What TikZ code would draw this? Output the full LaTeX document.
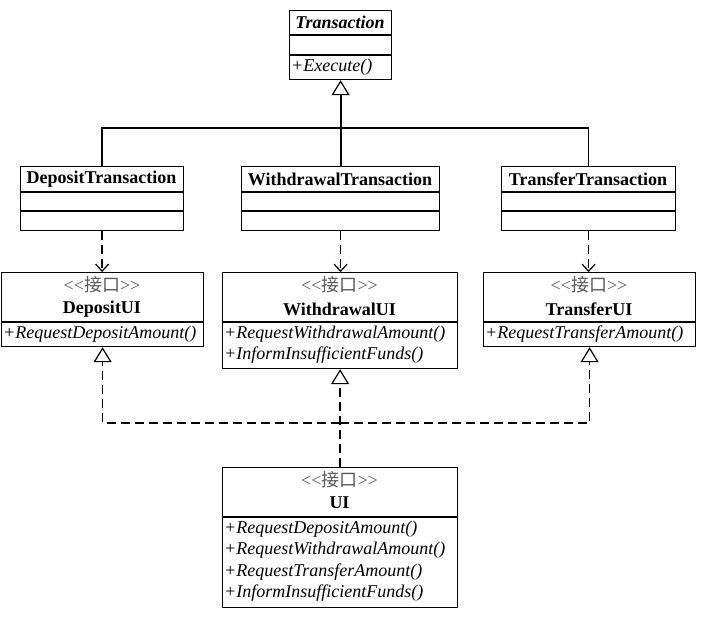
\documentclass[tikz,border=0pt]{standalone}
\usepackage{fontspec}
\setmainfont{Liberation Serif}
\newfontfamily\cjk{Noto Sans CJK SC}
\usetikzlibrary{arrows.meta}
\newcommand{\stereo}{<\kern0pt<\kern0pt{\cjk 接口}\kern0pt>\kern0pt>}
\begin{document}
\begin{tikzpicture}[x=1pt,y=-1pt]
\tikzset{
 cls/.style={draw, line width=1.2pt, inner sep=0pt, anchor=north west},
 ttl/.style={font=\fontsize{18}{21}\selectfont\bfseries, inner sep=0pt},
 mth/.style={font=\fontsize{18}{21}\selectfont\itshape, inner sep=0pt, anchor=west},
 ster/.style={font=\fontsize{18}{21}\selectfont, text=black!65, inner sep=0pt},
 sepl/.style={line width=1.2pt},
 inh/.style={line width=1.7pt},
 gen/.style={line width=1.9pt, -{Triangle[open,length=15pt,width=18pt,line width=1.2pt]}},
 dep/.style={line width=1.5pt, dash pattern=on 9pt off 5pt, -{Straight Barb[length=7pt,width=13pt,line width=1.2pt]}},
 realtip/.style={line width=1.5pt, dash pattern=on 9pt off 5pt, -{Triangle[open,length=15pt,width=18pt,line width=1.2pt]}},
}
\useasboundingbox (0,0) rectangle (706,622);
\fill[white] (0,0) rectangle (706,622);

% Transaction
\node[cls, minimum width=102pt, minimum height=69pt] (T) at (289,10) {};
\draw[sepl] (T.west |- 0,35) -- (T.east |- 0,35);
\draw[sepl] (T.west |- 0,55) -- (T.east |- 0,55);
\node[ttl, font=\fontsize{18}{21}\selectfont\bfseries\itshape] (Tt) at (340,22.5) {Transaction};
\node[mth] (Tm) at (291,67) {+Execute()};

% DepositTransaction
\node[cls, minimum width=163pt, minimum height=64pt] (DT) at (20,166) {};
\draw[sepl] (DT.west |- 0,192) -- (DT.east |- 0,192);
\draw[sepl] (DT.west |- 0,211) -- (DT.east |- 0,211);
\node[ttl] (DTt) at (101.5,179) {DepositTransaction};

% WithdrawalTransaction
\node[cls, minimum width=198pt, minimum height=64pt] (WT) at (241,166) {};
\draw[sepl] (WT.west |- 0,192) -- (WT.east |- 0,192);
\draw[sepl] (WT.west |- 0,211) -- (WT.east |- 0,211);
\node[ttl] (WTt) at (340,179) {WithdrawalTransaction};

% TransferTransaction
\node[cls, minimum width=174pt, minimum height=64pt] (TT) at (501,166) {};
\draw[sepl] (TT.west |- 0,192) -- (TT.east |- 0,192);
\draw[sepl] (TT.west |- 0,211) -- (TT.east |- 0,211);
\node[ttl] (TTt) at (588,179) {TransferTransaction};

% DepositUI
\node[cls, minimum width=202pt, minimum height=74pt] (DUI) at (1,272) {};
\draw[sepl] (DUI.west |- 0,322) -- (DUI.east |- 0,322);
\node[ster] (DUIs) at (102,285) {\stereo};
\node[ttl] (DUIt) at (102,309) {DepositUI};
\node[mth] (DUIm) at (3,334) {+RequestDepositAmount()};

% WithdrawalUI
\node[cls, minimum width=235pt, minimum height=96pt] (WUI) at (222,272) {};
\draw[sepl] (WUI.west |- 0,322) -- (WUI.east |- 0,322);
\node[ster] (WUIs) at (339.5,285) {\stereo};
\node[ttl] (WUIt) at (339.5,309) {WithdrawalUI};
\node[mth] (WUIm1) at (224,334) {+RequestWithdrawalAmount()};
\node[mth] (WUIm2) at (224,355) {+InformInsufficientFunds()};

% TransferUI
\node[cls, minimum width=212pt, minimum height=74pt] (TUI) at (483,272) {};
\draw[sepl] (TUI.west |- 0,322) -- (TUI.east |- 0,322);
\node[ster] (TUIs) at (589,285) {\stereo};
\node[ttl] (TUIt) at (589,309) {TransferUI};
\node[mth] (TUIm) at (485,334) {+RequestTransferAmount()};

% UI
\node[cls, minimum width=235pt, minimum height=140pt] (UI) at (222,467) {};
\draw[sepl] (UI.west |- 0,517) -- (UI.east |- 0,517);
\node[ster] (UIs) at (339.5,480) {\stereo};
\node[ttl] (UIt) at (339.5,503) {UI};
\node[mth] (UIm1) at (224,529) {+RequestDepositAmount()};
\node[mth] (UIm2) at (224,550) {+RequestWithdrawalAmount()};
\node[mth] (UIm3) at (224,572) {+RequestTransferAmount()};
\node[mth] (UIm4) at (224,593) {+InformInsufficientFunds()};

% generalization
\coordinate (jT) at (340,128);
\draw[inh] (DT.north) |- (jT) -| (TT.north);
\draw[gen] (WT.north) -- (T.south);

% dependencies
\draw[dep] (DT.south) -- (DT.south |- DUI.north);
\draw[dep] (WT.south) -- (WT.south |- WUI.north);
\draw[dep] (TT.south) -- (TT.south |- TUI.north);

% realizations
\coordinate (jU) at (340,423);
\draw[realtip] (jU) -| (DUI.south);
\draw[realtip] (jU) -| (TUI.south);
\draw[realtip] (UI.north) -- (UI.north |- WUI.south);
\end{tikzpicture}
\end{document}
